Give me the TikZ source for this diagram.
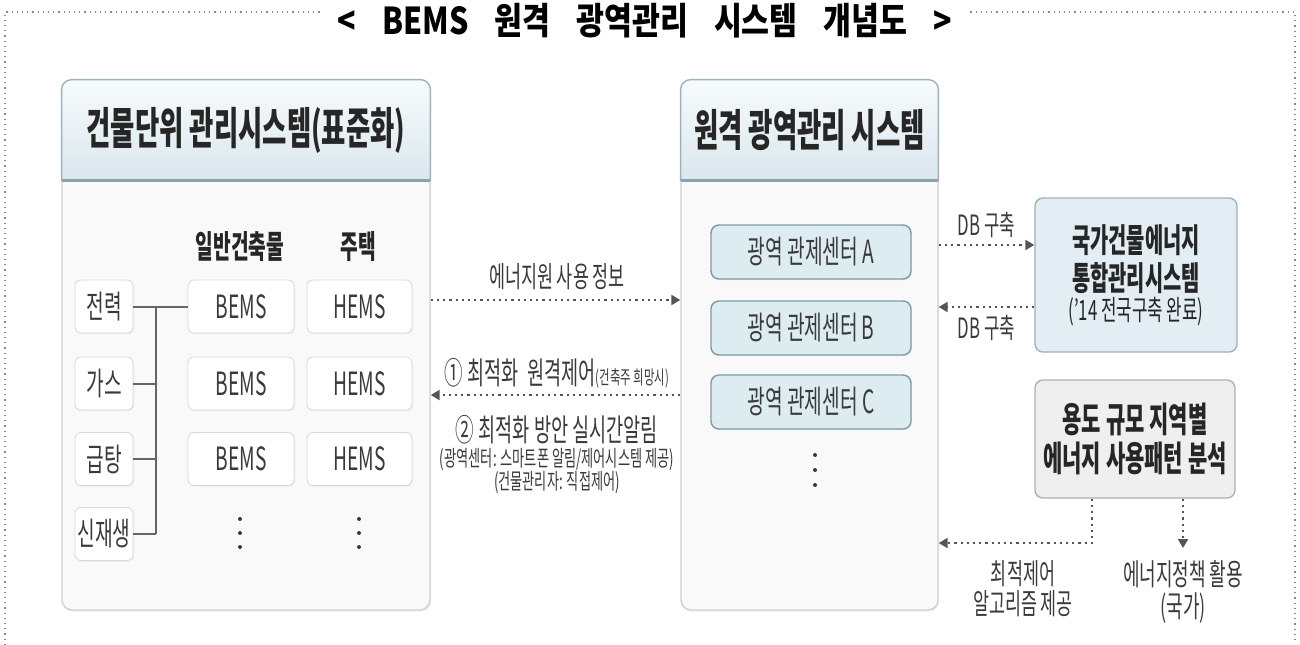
\documentclass[tikz,border=0pt]{standalone}
\usepackage{fontspec}
\usepackage{tikz}
\usetikzlibrary{positioning,arrows.meta,shadows,backgrounds}
\newfontfamily\kr[FakeStretch=0.6]{Noto Sans CJK KR}
\newfontfamily\krtitle[FakeStretch=0.82]{Noto Sans CJK KR}
\definecolor{txt}{HTML}{3A3A3A}
\definecolor{headtop}{HTML}{F7FBFC}
\definecolor{headbot}{HTML}{DAE7ED}
\definecolor{headline}{HTML}{9EB2BC}
\definecolor{headsep}{HTML}{8AA2AD}
\definecolor{panelbg}{HTML}{F9F9F9}
\definecolor{panelline}{HTML}{D0D0D0}
\definecolor{cellline}{HTML}{D8D8D8}
\definecolor{centerbg}{HTML}{DDECF1}
\definecolor{centerline}{HTML}{7E9BA5}
\definecolor{natbg}{HTML}{E2EEF3}
\definecolor{natline}{HTML}{A3B2B8}
\definecolor{anabg}{HTML}{EFEFEF}
\definecolor{analine}{HTML}{B0B0B0}
\definecolor{flowc}{HTML}{555555}
\definecolor{busc}{HTML}{666666}
\definecolor{framec}{HTML}{888888}
\tikzstyle{flow} = [line width=1.1pt, dotted, flowc, -{Triangle[length=4.5pt,width=5pt]}]
\tikzstyle{busline} = [line width=1pt, busc]
\tikzstyle{framedots} = [line width=0.6pt, dotted, framec]
\tikzstyle{panel} = [draw=panelline, fill=panelbg, rounded corners=5pt, line width=0.7pt, minimum height=265pt, drop shadow={opacity=0.12,shadow xshift=0.6pt,shadow yshift=-0.8pt}]
\tikzstyle{headtxt} = [font=\kr\bfseries\fontsize{22}{26}\selectfont, text=black!85, minimum height=50pt, inner sep=0pt]
\tikzstyle{titletxt} = [font=\krtitle\bfseries\fontsize{18.5}{22}\selectfont, text=black, inner xsep=9pt]
\tikzstyle{colhead} = [font=\kr\bfseries\fontsize{16}{19}\selectfont, text=black!85]
\tikzstyle{cell} = [draw=cellline, fill=white, rounded corners=3pt, minimum height=26.5pt, inner sep=0pt, font=\kr\fontsize{16}{19}\selectfont, text=txt, drop shadow={opacity=0.10,shadow xshift=0.5pt,shadow yshift=-0.6pt}]
\tikzstyle{region} = [draw=centerline, fill=centerbg, rounded corners=4pt, minimum width=100pt, minimum height=27pt, line width=0.7pt, font=\kr\fontsize{16}{19}\selectfont, text=txt, drop shadow={opacity=0.10,shadow xshift=0.5pt,shadow yshift=-0.6pt}]
\tikzstyle{natbox} = [draw=natline, fill=natbg, rounded corners=4pt, minimum width=101pt, minimum height=77pt, line width=0.7pt, align=center, font=\kr\bfseries\fontsize{16.5}{19}\selectfont, text=black!85]
\tikzstyle{anabox} = [draw=analine, fill=anabg, rounded corners=4pt, minimum width=100pt, minimum height=59pt, line width=0.7pt, align=center, font=\kr\bfseries\fontsize{17.5}{19.5}\selectfont, text=black!85]
\tikzstyle{lbl} = [font=\kr\fontsize{14.5}{15}\selectfont, text=txt]
\tikzstyle{small} = [font=\kr\fontsize{11}{12}\selectfont, text=txt]
\newcommand{\tgap}{\hspace{13pt}}
% header with rounded top and a darker rule at its foot
\newcommand{\headshape}[1]{%
  \shade[top color=headtop,bottom color=headbot,draw=headline,line width=0.7pt]
    (#1.south west) -- ([yshift=-5pt]#1.north west) arc[start angle=180,end angle=90,radius=5pt]
    -- ([xshift=-5pt]#1.north east) arc[start angle=90,end angle=0,radius=5pt] -- (#1.south east) -- cycle;
  \draw[line width=1.2pt,headsep] (#1.south west) -- (#1.south east);}

\begin{document}
\begin{tikzpicture}[x=0.5pt,y=-0.5pt]
    \useasboundingbox (0,0) rectangle (1300,644);
    % title and dotted frame
    \node[titletxt] (title) at (645,21) {<\tgap BEMS\tgap 원격\tgap 광역관리\tgap 시스템\tgap 개념도\tgap >};
    \coordinate (ftl) at (5,12);
    \coordinate (ftr) at (1295,12);
    \coordinate (fbl) at (5,644);
    \coordinate (fbr) at (1295,644);
    \draw[framedots] (title.west |- ftl) -- (ftl) -- (fbl);
    \draw[framedots] (title.east |- ftr) -- (ftr) -- (fbr);
    % the two panels
    \node[headtxt, minimum width=184pt] (lhead) at (246,130) {건물단위 관리시스템(표준화)};
    \node[headtxt, minimum width=128.5pt] (mhead) at (809.5,130) {원격 광역관리 시스템};
    \begin{scope}[on background layer]
        \node[panel, minimum width=184pt] (lpanel) at (246,345) {};
        \node[panel, minimum width=128.5pt] (mpanel) at (809.5,345) {};
        \headshape{lhead}
        \headshape{mhead}
    \end{scope}
    % building side
    \node[colhead] (gen) at (240,247) {일반건축물};
    \node[colhead] (home) at (358,247) {주택};
    \foreach \i/\y/\t in {1/306.5/전력,2/383.5/가스,3/459/급탕,4/534/신재생}
        \node[cell, minimum width=29pt] (e\i) at (104,\y) {\t};
    \foreach \i/\y in {1/306.5,2/383.5,3/459} {
        \node[cell, minimum width=53pt] (b\i) at (241,\y) {BEMS};
        \node[cell, minimum width=52.5pt] (h\i) at (359.5,\y) {HEMS};
    }
    \coordinate (bus) at (156,0);
    \draw[busline] (e1.east) -- (b1.west);
    \draw[busline] (bus |- e1.east) -- (bus |- e4.east);
    \foreach \i in {2,3,4} \draw[busline] (e\i.east) -- (bus |- e\i.east);
    \foreach \x in {240,359} \foreach \y in {519,533,547} \fill[txt] (\x,\y) circle (1pt);
    % messages between the panels
    \coordinate (up) at (0,300);
    \coordinate (down) at (0,395);
    \node[lbl] (info) at (557,277) {에너지원 사용 정보};
    \draw[flow] (lpanel.east |- up) -- (mpanel.west |- up);
    \node[lbl] (ctrl) at (557,373) {{\fontsize{15.5}{17}\selectfont ① 최적화\ \ 원격제어}{\fontsize{9.5}{11}\selectfont (건축주 희망시)}};
    \draw[flow] (mpanel.west |- down) -- (lpanel.east |- down);
    \node[lbl, font=\kr\fontsize{15.5}{17}\selectfont] (alert) at (557,430) {② 최적화 방안 실시간알림};
    \node[small] (alert2) at (557,460) {(광역센터: 스마트폰 알림/제어시스템 제공)};
    \node[small] (alert3) at (557,483) {(건물관리자: 직접제어)};
    % regional centres
    \foreach \i/\y in {A/252,B/328,C/402}
        \node[region] (r\i) at (811,\y) {광역 관제센터 \i};
    \foreach \y in {455,470,485} \fill[txt] (815,\y) circle (1pt);
    % national system and analysis
    \node[natbox] (nat) at (1136,275) {국가건물에너지\\통합관리시스템\\[-4pt]{\mdseries\fontsize{14}{15}\selectfont(’14 전국구축 완료)}};
    \node[anabox] (ana) at (1135,439) {용도 규모 지역별\\에너지 사용패턴 분석};
    \coordinate (db1) at ([yshift=15pt]nat.west);
    \coordinate (db2) at ([yshift=-16pt]nat.west);
    \draw[flow] (mpanel.east |- db1) -- node[lbl, above, font=\kr\fontsize{14}{15}\selectfont] (dbin) {DB 구축} (db1);
    \draw[flow] (db2) -- node[lbl, below, font=\kr\fontsize{14}{15}\selectfont] (dbout) {DB 구축} (mpanel.east |- db2);
    \coordinate (algo) at (1092,543);
    \coordinate (policy) at (1183,548);
    \draw[flow] (ana.south -| algo) -- (algo) -- (mpanel.east |- algo);
    \draw[flow] (ana.south -| policy) -- (policy);
    \node[lbl, align=center, font=\kr\fontsize{14.5}{15}\selectfont] (algotxt) at (1023,589) {최적제어\\알고리즘 제공};
    \node[lbl, align=center, font=\kr\fontsize{15}{16}\selectfont] (policytxt) at (1183,592) {에너지정책 활용\\(국가)};
\end{tikzpicture}
\end{document}
